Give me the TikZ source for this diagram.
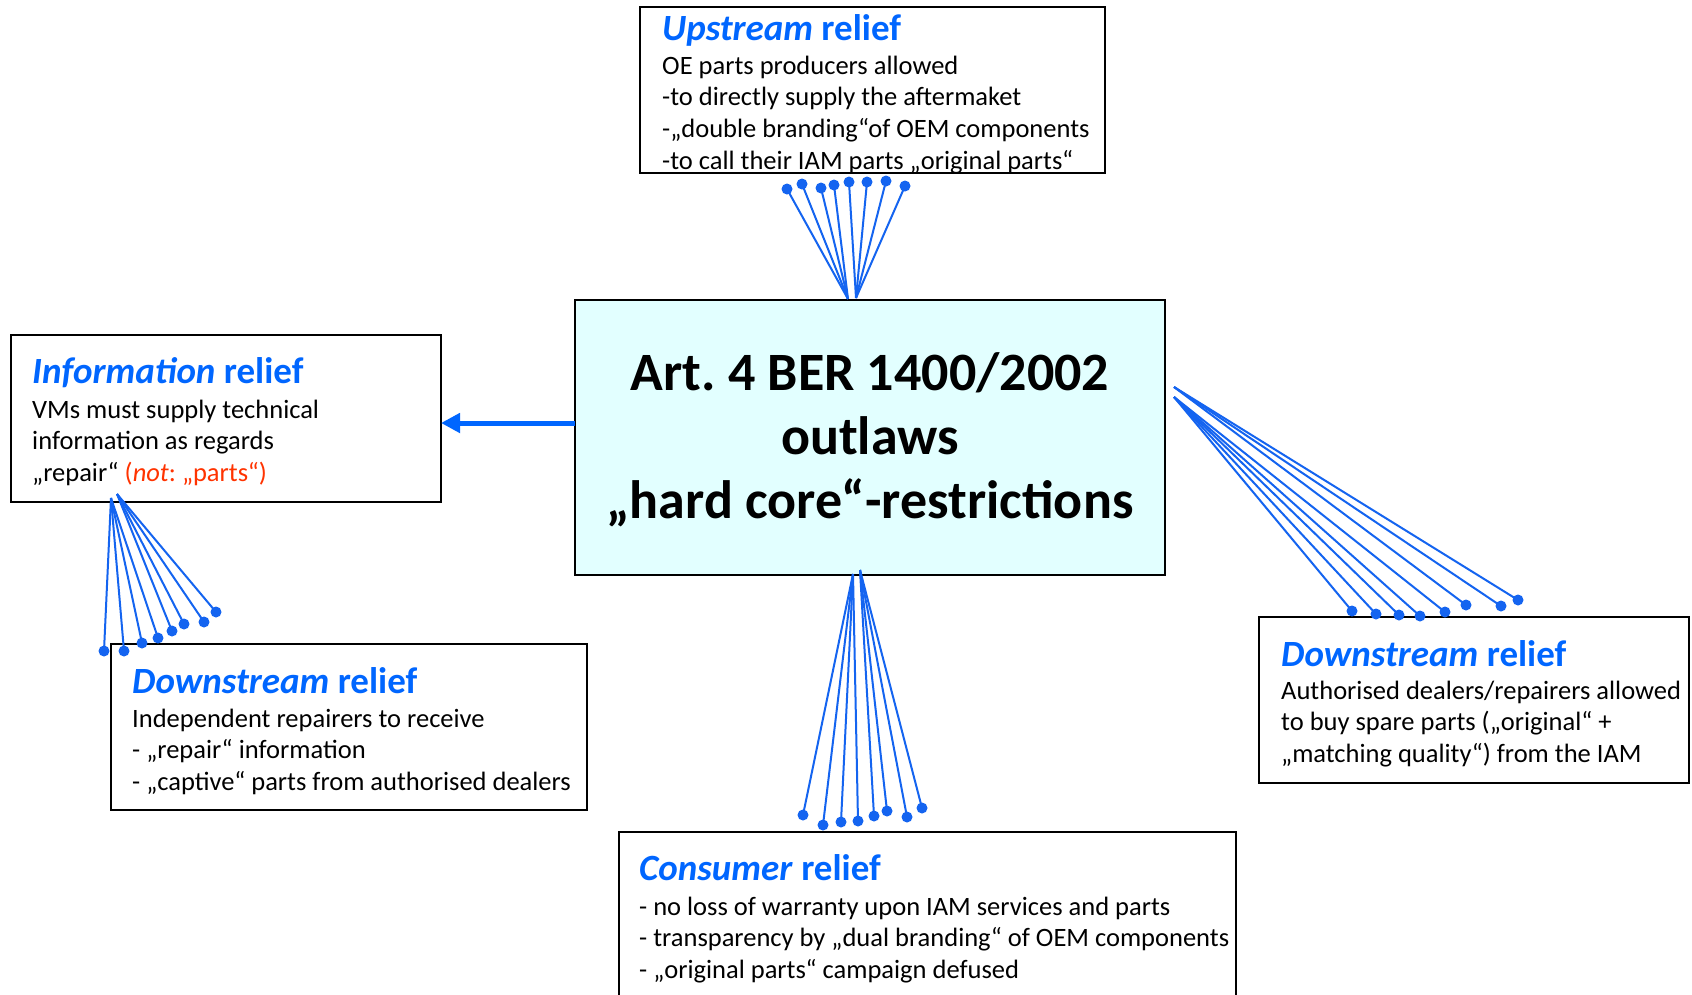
\documentclass[tikz,border=0pt]{standalone}
\usepackage{fontspec}
\setmainfont{Carlito}
\usetikzlibrary{arrows.meta}
\definecolor{tblue}{RGB}{0,102,255}
\definecolor{lblue}{RGB}{20,100,240}
\definecolor{tred}{RGB}{255,51,0}
\definecolor{cfill}{RGB}{226,255,255}
\frenchspacing
\begin{document}
\begin{tikzpicture}[x=1pt,y=-1pt,
  box/.style={draw=black, line width=1.8pt, anchor=north west, inner sep=0pt, outer sep=0pt},
  ttl/.style={anchor=base west, inner sep=0pt, font=\fontsize{37}{42}\selectfont\bfseries, text=tblue},
  body/.style={anchor=north west, inner sep=0pt, font=\fontsize{26.5}{31.7}\selectfont, align=left},
  fan/.style={draw=lblue, line width=2pt},
  dot/.style={circle, fill=lblue, inner sep=0pt, minimum size=11pt},
  bigarrow/.style={draw=tblue, line width=5pt, -{Triangle[length=19pt,width=19pt]}}
]
\clip (0,0) rectangle (1692,994);
\fill[white] (0,0) rectangle (1692,994);

% boxes
\node[box, minimum width=465pt, minimum height=166pt] (up) at (640,7) {};
\node[box, minimum width=430pt, minimum height=167pt] (info) at (11,335) {};
\node[box, fill=cfill, minimum width=590pt, minimum height=275pt] (center) at (575,300) {};
\node[box, minimum width=476pt, minimum height=166pt] (dl) at (111,644) {};
\node[box, minimum width=430pt, minimum height=166pt] (dr) at (1259,617) {};
\node[box, minimum width=617pt, minimum height=200pt] (cons) at (619,832) {};

% center text
\node[anchor=north, inner sep=0pt, align=center, font=\fontsize{54}{64}\selectfont\bfseries] (ctext) at (870,345.2)
  {\strut Art. 4 BER 1400/2002\\ outlaws\\ „hard core“-restrictions};

% titles
\node[ttl] (upt) at (662,40) {\textit{Upstream} relief};
\node[ttl] (infot) at (32,383) {\textit{Information} relief};
\node[ttl] (dlt) at (132,693) {\textit{Downstream} relief};
\node[ttl] (drt) at (1281,666) {\textit{Downstream} relief};
\node[ttl] (const) at (639,880) {\textit{Consumer} relief};

% bodies
\node[body] (upb) at (662,51.8) {\strut OE parts producers allowed\\ -to directly supply the aftermaket\\ -„double branding“of OEM components\\ -to call their IAM parts „original parts“};
\node[body] (infob) at (32,395.8) {\strut VMs must supply technical\\ information as regards\\ „repair“ \textcolor{tred}{(\textit{not}: „parts“)}};
\node[body] (dlb) at (132,704.8) {\strut Independent repairers to receive\\ - „repair“ information\\ - „captive“ parts from authorised dealers};
\node[body] (drb) at (1281,676.8) {\strut Authorised dealers/repairers allowed\\ to buy spare parts („original“ +\\ „matching quality“) from the IAM};
\node[body] (consb) at (639,892.8) {\strut - no loss of warranty upon IAM services and parts\\ - transparency by „dual branding“ of OEM components\\ - „original parts“ campaign defused};

% arrow
\draw[bigarrow] (center.west |- 0,423) -- (info.east |- 0,423);

% apex coordinates
\coordinate (ua) at (848,299);
\coordinate (ub) at (856,298);
\coordinate (ia) at (111,498);
\coordinate (ib) at (117,494);
\coordinate (ra) at (1174,387);
\coordinate (rb) at (1174,397);
\coordinate (ca) at (853,574);
\coordinate (cb) at (860,570);

% upstream fan
\foreach \n/\x/\y/\a in {1/787/189/ua,2/802/184/ua,3/821/188/ua,4/834/185/ua,5/849/182/ub,6/867/182/ub,7/886/181/ub,8/905/186/ub}{
  \node[dot] (u\n) at (\x,\y) {};
  \draw[fan] (\a) -- (u\n.center);
}
% information fan
\foreach \n/\x/\y/\a in {1/104/651/ia,2/124/651/ia,3/142/643/ia,4/158/638/ia,5/172/631/ib,6/184/624/ib,7/204/622/ib,8/216/612/ib}{
  \node[dot] (i\n) at (\x,\y) {};
  \draw[fan] (\a) -- (i\n.center);
}
% right downstream fan
\foreach \n/\x/\y/\a in {1/1352/611/rb,2/1376/614/rb,3/1399/615/rb,4/1420/616/rb,5/1445/612/rb,6/1466/605/ra,7/1501/606/ra,8/1518/600/ra}{
  \node[dot] (r\n) at (\x,\y) {};
  \draw[fan] (\a) -- (r\n.center);
}
% consumer fan
\foreach \n/\x/\y/\a in {1/803/815/ca,2/823/825/ca,3/841/822/ca,4/858/821/ca,5/874/816/cb,6/887/811/cb,7/907/817/cb,8/922/808/cb}{
  \node[dot] (c\n) at (\x,\y) {};
  \draw[fan] (\a) -- (c\n.center);
}
\end{tikzpicture}
\end{document}
